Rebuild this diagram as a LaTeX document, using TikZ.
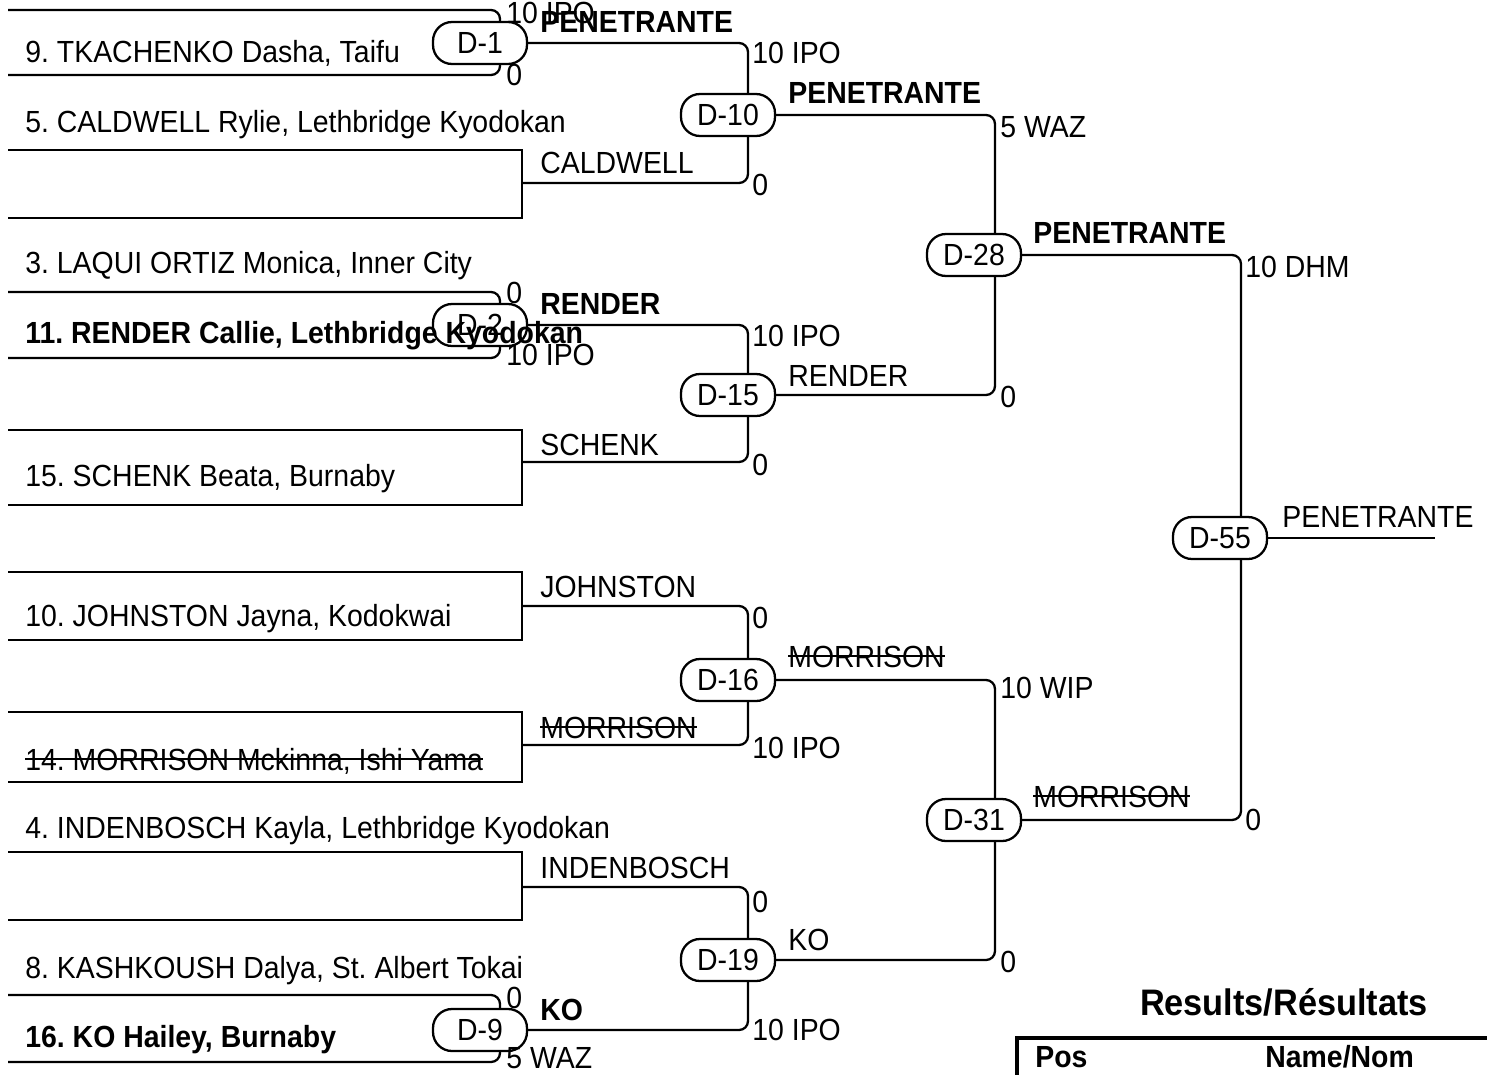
\documentclass[tikz,border=0pt]{standalone}
\usepackage{fontspec}
\setmainfont{Liberation Sans}[FakeStretch=0.93]
\usetikzlibrary{positioning,backgrounds}
\newcommand{\strikeText}[1]{\setbox0\hbox{#1}\rlap{\rule[0.33em]{\wd0}{1.1pt}}\box0}
\frenchspacing

\begin{document}
\begin{tikzpicture}[x=0.02cm, y=-0.02cm,
        every node/.style={font=\fontsize{17.4}{20}\selectfont, inner sep=0pt},
        boutNode/.style={
                draw, fill=white, line width=1.3pt,
                rounded corners=0.38cm,
                minimum width=1.88cm, minimum height=0.84cm
            },
        nameText/.style={anchor=base west},
        winnerText/.style={anchor=base west, font=\fontsize{17.4}{20}\selectfont\bfseries},
        scoreText/.style={anchor=base west},
        boxLine/.style={line width=1.3pt},
        bracketLine/.style={line width=1.3pt, rounded corners=0.18cm}
    ]
    \useasboundingbox (0,0) rectangle (1487,1075);

    % Bouts
    \node[boutNode] (d1) at (480,43) {D-1};
    \node[boutNode] (d2) at (480,325) {D-2};
    \node[boutNode] (d9) at (480,1030) {D-9};
    \node[boutNode] (d10) at (728,115) {D-10};
    \node[boutNode] (d15) at (728,395) {D-15};
    \node[boutNode] (d16) at (728,680) {D-16};
    \node[boutNode] (d19) at (728,960) {D-19};
    \node[boutNode] (d28) at (974,255) {D-28};
    \node[boutNode] (d31) at (974,820) {D-31};
    \node[boutNode] (d55) at (1220,538) {D-55};

    % Box ends and final end
    \coordinate (boxCaldwell) at (522,183);
    \coordinate (boxSchenk) at (522,462);
    \coordinate (boxJohnston) at (522,606);
    \coordinate (boxMorrison) at (522,745);
    \coordinate (boxIndenbosch) at (522,887);
    \coordinate (finalEnd) at (1435,538);

    \begin{scope}[on background layer]
        % First round
        \draw[bracketLine] (8,10) -| (500,75) -- (8,75);
        \draw[bracketLine] (8,292) -| (500,358) -- (8,358);
        \draw[bracketLine] (8,995) -| (500,1062) -- (8,1062);
        \draw[boxLine] (8,150) -| (522,218) -- (8,218);
        \draw[boxLine] (8,430) -| (522,505) -- (8,505);
        \draw[boxLine] (8,572) -| (522,640) -- (8,640);
        \draw[boxLine] (8,712) -| (522,782) -- (8,782);
        \draw[boxLine] (8,852) -| (522,920) -- (8,920);
        % Second round
        \draw[bracketLine] (d1.east) -| (748,183) -- (boxCaldwell);
        \draw[bracketLine] (d2.east) -| (748,462) -- (boxSchenk);
        \draw[bracketLine] (boxJohnston) -| (748,745) -- (boxMorrison);
        \draw[bracketLine] (boxIndenbosch) -| (748,1030) -- (d9.east);
        % Quarter and semi
        \draw[bracketLine] (d10.east) -| (995,395) -- (d15.east);
        \draw[bracketLine] (d16.east) -| (995,960) -- (d19.east);
        \draw[bracketLine] (d28.east) -| (1241,820) -- (d31.east);
        \draw[bracketLine] (d55.east) -- (finalEnd);
    \end{scope}

    % Competitors
    \node[nameText] (n9) at (25,62) {9. TKACHENKO Dasha, Taifu};
    \node[nameText] (n5) at (25,132) {5. CALDWELL Rylie, Lethbridge Kyodokan};
    \node[nameText] (n3) at (25,273) {3. LAQUI ORTIZ Monica, Inner City};
    \node[winnerText] (n11) at (25,343) {11. RENDER Callie, Lethbridge Kyodokan};
    \node[nameText] (n15) at (25,486) {15. SCHENK Beata, Burnaby};
    \node[nameText] (n10) at (25,626) {10. JOHNSTON Jayna, Kodokwai};
    \node[nameText] (n14) at (25,770) {\strikeText{14. MORRISON Mckinna, Ishi Yama}};
    \node[nameText] (n4) at (25,838) {4. INDENBOSCH Kayla, Lethbridge Kyodokan};
    \node[nameText] (n8) at (25,978) {8. KASHKOUSH Dalya, St. Albert Tokai};
    \node[winnerText] (n16) at (25,1047) {16. KO Hailey, Burnaby};

    % Scores
    \node[scoreText] at (506,23) {10 IPO};
    \node[scoreText] at (506,85) {0};
    \node[scoreText] at (506,303) {0};
    \node[scoreText] at (506,365) {10 IPO};
    \node[scoreText] at (506,1008) {0};
    \node[scoreText] at (506,1068) {5 WAZ};
    \node[scoreText] at (752,63) {10 IPO};
    \node[scoreText] at (752,195) {0};
    \node[scoreText] at (752,346) {10 IPO};
    \node[scoreText] at (752,475) {0};
    \node[scoreText] at (752,628) {0};
    \node[scoreText] at (752,758) {10 IPO};
    \node[scoreText] at (752,912) {0};
    \node[scoreText] at (752,1040) {10 IPO};
    \node[scoreText] at (1000,137) {5 WAZ};
    \node[scoreText] at (1000,407) {0};
    \node[scoreText] at (1000,698) {10 WIP};
    \node[scoreText] at (1000,972) {0};
    \node[scoreText] at (1245,277) {10 DHM};
    \node[scoreText] at (1245,830) {0};

    % Winners
    \node[winnerText] at (540,32) {PENETRANTE};
    \node[scoreText] at (540,173) {CALDWELL};
    \node[winnerText] at (540,314) {RENDER};
    \node[scoreText] at (540,455) {SCHENK};
    \node[scoreText] at (540,597) {JOHNSTON};
    \node[scoreText] at (540,738) {\strikeText{MORRISON}};
    \node[scoreText] at (540,878) {INDENBOSCH};
    \node[winnerText] at (540,1020) {KO};
    \node[winnerText] at (788,103) {PENETRANTE};
    \node[scoreText] at (788,386) {RENDER};
    \node[scoreText] at (788,667) {\strikeText{MORRISON}};
    \node[scoreText] at (788,950) {KO};
    \node[winnerText] at (1033,243) {PENETRANTE};
    \node[scoreText] at (1033,807) {\strikeText{MORRISON}};
    \node[scoreText] at (1282,527) {PENETRANTE};

    % Results table
    \node[font=\fontsize{21}{24}\selectfont\bfseries, anchor=base] (resTitle) at (1284,1015) {Results/Résultats};
    \draw[line width=2.4pt] (1487,1038) -- (1017,1038) -- (1017,1075);
    \node[winnerText] (posHead) at (1035,1067) {Pos};
    \node[winnerText] (nameHead) at (1265,1067) {Name/Nom};
\end{tikzpicture}
\end{document}
